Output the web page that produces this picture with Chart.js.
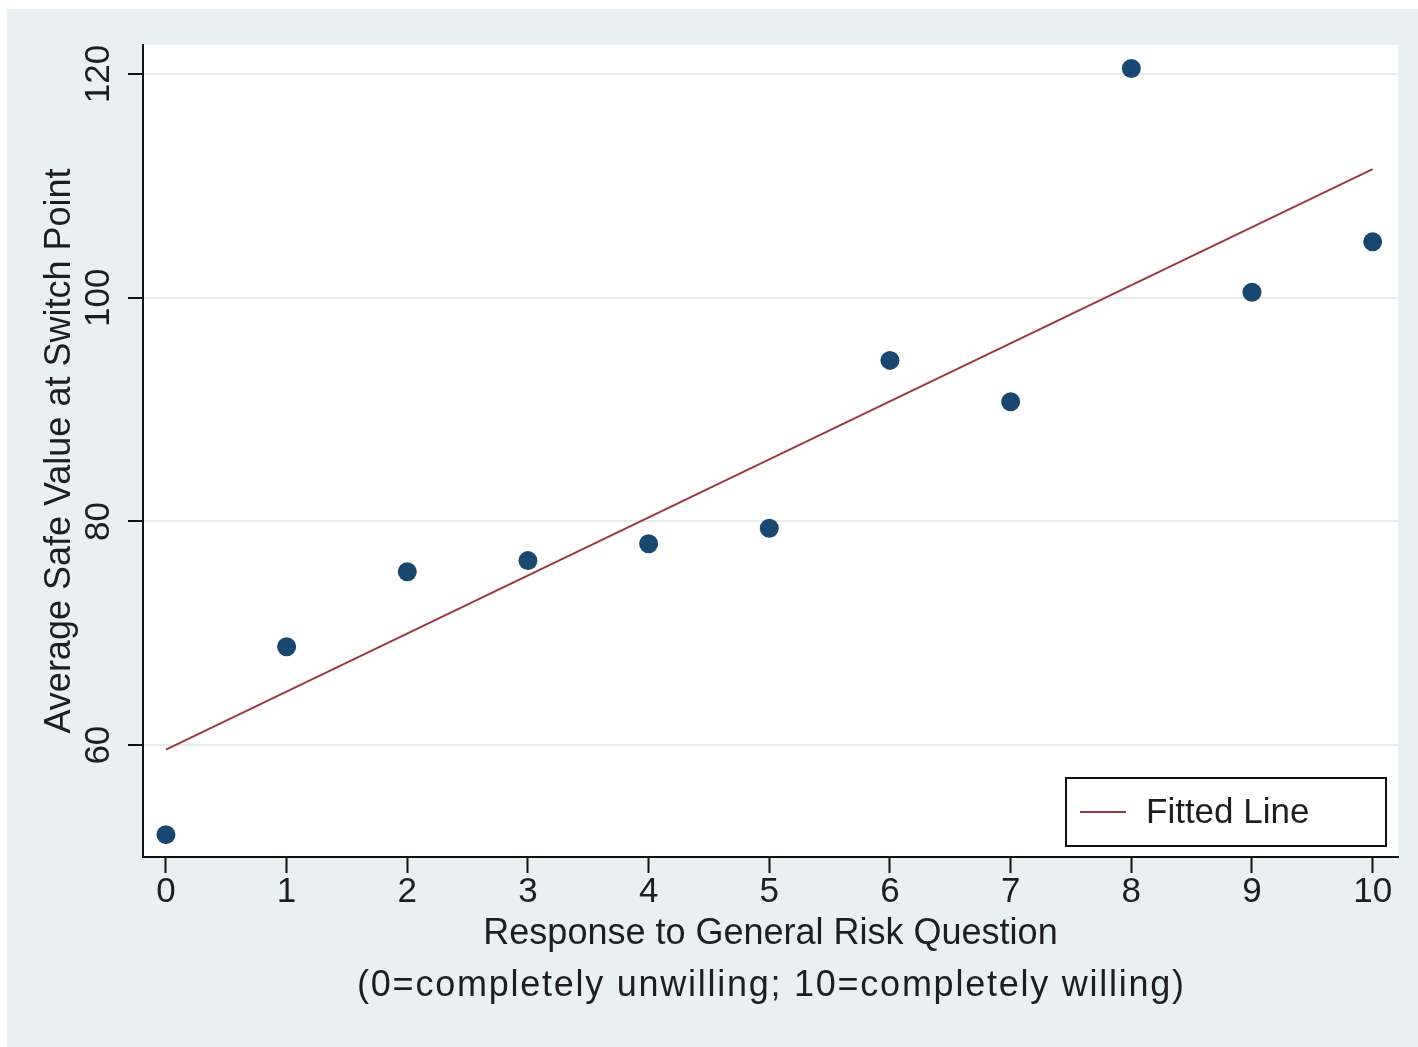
<!DOCTYPE html>
<html>
<head>
<meta charset="utf-8">
<script src="https://cdn.jsdelivr.net/npm/chart.js@4.4.0/dist/chart.umd.min.js"></script>
<style>
html,body{margin:0;padding:0;background:#fff;}
#wrap{width:1418px;height:1047px;position:relative;}
canvas{display:block;}
</style>
</head>
<body>
<div id="wrap"><canvas id="c" width="1418" height="1047"></canvas></div>
<script>
// ---- data ----
const riskResponse = [0, 1, 2, 3, 4, 5, 6, 7, 8, 9, 10];
const avgSafeValue = [52.0, 68.8, 75.5, 76.5, 78.0, 79.4, 94.4, 90.7, 120.5, 100.5, 105.0];
const fittedX = [0, 10];
const fittedY = [59.6, 111.5];
const xTickValues = [0, 1, 2, 3, 4, 5, 6, 7, 8, 9, 10];
const yTickValues = [60, 80, 100, 120];
const yAxisTitle = 'Average Safe Value at Switch Point';
const xAxisTitle = ['Response to General Risk Question', '(0=completely unwilling; 10=completely willing)'];
const fittedLabel = 'Fitted Line';

const FONT = '"Liberation Sans", Arial, sans-serif';
const TEXT = '#1e1e1e';
const POINT_COLOR = '#1a476f';
const LINE_COLOR = '#9a3a40';

const decor = {
  id: 'decor',
  beforeDraw(chart) {
    const ctx = chart.ctx, a = chart.chartArea;
    ctx.save();
    ctx.fillStyle = '#ffffff';
    ctx.fillRect(0, 0, chart.width, chart.height);
    ctx.fillStyle = '#e8f0f2';
    ctx.fillRect(7, 9, chart.width - 7, chart.height - 9);
    ctx.fillStyle = '#ffffff';
    ctx.fillRect(a.left, a.top, a.right - a.left, a.bottom - a.top);
    ctx.restore();
  },
  afterDraw(chart) {
    const ctx = chart.ctx, a = chart.chartArea;
    const ys = chart.scales.y;
    ctx.save();
    ctx.fillStyle = TEXT;
    ctx.font = '35px ' + FONT;
    ctx.textAlign = 'center';
    ctx.textBaseline = 'middle';
    // rotated y tick labels
    yTickValues.forEach(v => {
      const py = ys.getPixelForValue(v);
      ctx.save();
      ctx.translate(99, py);
      ctx.rotate(-Math.PI / 2);
      ctx.fillText(String(v), 0, 0);
      ctx.restore();
    });
    // y axis title
    ctx.font = '36px ' + FONT;
    ctx.save();
    ctx.translate(60, (a.top + a.bottom) / 2);
    ctx.rotate(-Math.PI / 2);
    ctx.fillText(yAxisTitle, 0, 0);
    ctx.restore();
    // x axis title
    const cx = (a.left + a.right) / 2;
    ctx.fillText(xAxisTitle[0], cx, a.bottom + 77);
    ctx.save();
    ctx.letterSpacing = '1.75px';
    ctx.fillText(xAxisTitle[1], cx + 0.9, a.bottom + 129);
    ctx.restore();
    // legend
    const lx2 = a.right - 12, ly2 = a.bottom - 11;
    const lx1 = lx2 - 320, ly1 = ly2 - 68;
    ctx.fillStyle = '#ffffff';
    ctx.fillRect(lx1, ly1, lx2 - lx1, ly2 - ly1);
    ctx.strokeStyle = '#111';
    ctx.lineWidth = 2;
    ctx.strokeRect(lx1, ly1, lx2 - lx1, ly2 - ly1);
    const my = (ly1 + ly2) / 2;
    ctx.strokeStyle = chart.data.datasets[1].borderColor;
    ctx.beginPath();
    ctx.moveTo(lx1 + 14, my);
    ctx.lineTo(lx1 + 60, my);
    ctx.stroke();
    ctx.fillStyle = TEXT;
    ctx.font = '35px ' + FONT;
    ctx.textAlign = 'left';
    ctx.fillText(chart.data.datasets[1].label, lx1 + 80, my + 1);
    ctx.restore();
  }
};

new Chart(document.getElementById('c'), {
  type: 'scatter',
  data: {
    datasets: [
      {
        label: 'Average Safe Value',
        data: riskResponse.map((x, i) => ({ x: x, y: avgSafeValue[i] })),
        backgroundColor: POINT_COLOR,
        borderWidth: 0,
        pointRadius: 9.5,
        pointHoverRadius: 9.5,
        order: 1
      },
      {
        type: 'line',
        label: fittedLabel,
        data: fittedX.map((x, i) => ({ x: x, y: fittedY[i] })),
        borderColor: LINE_COLOR,
        borderWidth: 2,
        pointRadius: 0,
        fill: false,
        showLine: true,
        order: 2
      }
    ]
  },
  options: {
    responsive: false,
    animation: false,
    devicePixelRatio: 1,
    layout: { padding: { top: 45, right: 20, left: 0, bottom: 0 } },
    plugins: { legend: { display: false }, tooltip: { enabled: false } },
    scales: {
      x: {
        type: 'linear',
        min: -0.19,
        max: 10.21,
        afterBuildTicks: s => { s.ticks = xTickValues.map(v => ({ value: v })); },
        afterFit: s => { s.height = 190; },
        grid: { drawOnChartArea: false, drawTicks: true, tickLength: 16, tickColor: '#111', tickWidth: 2 },
        border: { color: '#111', width: 2 },
        ticks: { font: { size: 35, family: FONT }, color: TEXT, padding: -2, maxRotation: 0, autoSkip: false }
      },
      y: {
        type: 'linear',
        min: 50,
        max: 122.6,
        afterBuildTicks: s => { s.ticks = yTickValues.map(v => ({ value: v })); },
        afterFit: s => { s.width = 143; },
        grid: { color: '#e4eef0', lineWidth: 2, drawTicks: true, tickLength: 15, tickColor: '#111', tickWidth: 2 },
        border: { color: '#111', width: 2 },
        ticks: { display: false }
      }
    }
  },
  plugins: [decor]
});
</script>
</body>
</html>
